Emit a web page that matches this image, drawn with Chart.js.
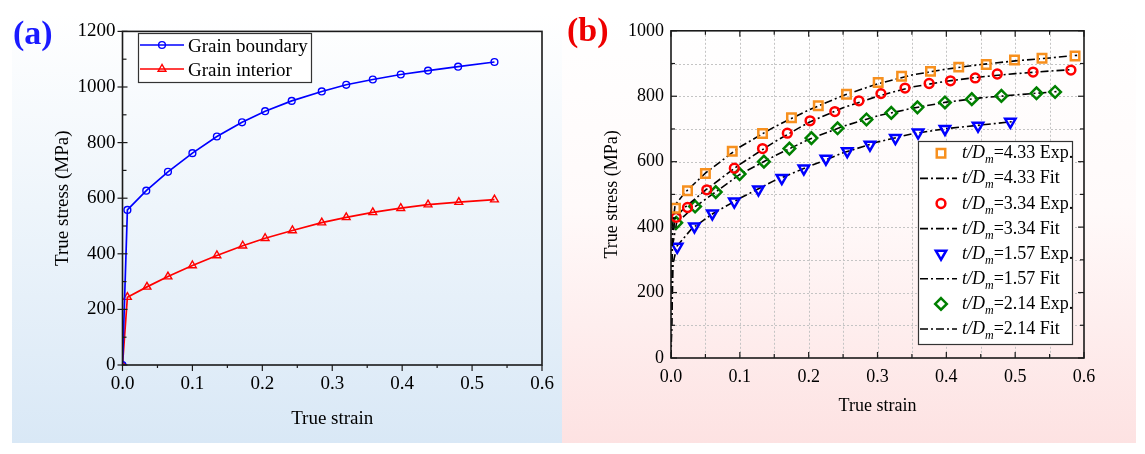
<!DOCTYPE html>
<html><head><meta charset="utf-8">
<script src="https://cdn.jsdelivr.net/npm/chart.js@4.4.1/dist/chart.umd.min.js"></script>
<style>
html,body{margin:0;padding:0;background:#fff;width:1145px;height:454px;overflow:hidden;}
#pa{position:absolute;left:12px;top:13px;width:550px;height:430px;background:linear-gradient(to bottom,#ffffff 0%,#eef5fb 45%,#d9e8f6 100%);}
#pb{position:absolute;left:562px;top:13px;width:574px;height:430px;background:linear-gradient(to bottom,#ffffff 0%,#fffafa 45%,#fde2e2 100%);}
canvas{position:absolute;left:0;top:0;}
.lab{position:absolute;font-family:"Liberation Serif","Times New Roman",serif;font-weight:bold;font-size:34px;line-height:34px;}
</style></head>
<body>
<div id="pa"><canvas id="ca" width="550" height="430" style="width:550px;height:430px"></canvas></div>
<div id="pb"><canvas id="cb" width="574" height="430" style="width:574px;height:430px"></canvas></div>
<div class="lab" style="left:13px;top:16px;color:#1a1aff">(a)</div>
<div class="lab" style="left:567px;top:13px;color:#ee0000">(b)</div>
<script>
// ---------- Panel (a) data ----------
const strainGB = [0, 0.007, 0.034, 0.065, 0.100, 0.135, 0.171, 0.204, 0.242, 0.285, 0.320, 0.358, 0.398, 0.437, 0.480, 0.532];
const stressGB = [0, 558, 627, 695, 762, 822, 873, 913, 950, 984, 1008, 1027, 1045, 1059, 1073, 1090];
const strainGI = [0, 0.007, 0.035, 0.065, 0.100, 0.135, 0.172, 0.204, 0.243, 0.285, 0.320, 0.358, 0.398, 0.437, 0.481, 0.532];
const stressGI = [0, 244, 281, 318, 358, 394, 429, 456, 484, 512, 531, 549, 564, 577, 586, 595];
const xTicksA = [0, 0.1, 0.2, 0.3, 0.4, 0.5, 0.6];
const yTicksA = [0, 200, 400, 600, 800, 1000, 1200];
const labelsA = ['Grain boundary', 'Grain interior'];

// ---------- Panel (b) data ----------
const strainE433 = [0.0065, 0.024, 0.050, 0.089, 0.133, 0.175, 0.214, 0.255, 0.301, 0.335, 0.377, 0.418, 0.458, 0.499, 0.539, 0.587];
const stressE433 = [458, 511, 564, 632, 686, 734, 771, 806, 842, 861, 876, 889, 897, 911, 916, 923];
const strainE334 = [0.0076, 0.024, 0.052, 0.092, 0.133, 0.169, 0.202, 0.238, 0.273, 0.305, 0.340, 0.375, 0.406, 0.442, 0.474, 0.526, 0.581];
const stressE334 = [430, 460, 514, 580, 640, 687, 725, 753, 786, 808, 825, 839, 847, 856, 868, 874, 880];
const strainE157 = [0.009, 0.034, 0.060, 0.092, 0.127, 0.161, 0.193, 0.225, 0.256, 0.289, 0.326, 0.359, 0.398, 0.446, 0.493];
const stressE157 = [340, 402, 442, 478, 515, 550, 579, 609, 632, 652, 672, 689, 700, 710, 722];
const strainE214 = [0.0076, 0.035, 0.065, 0.0997, 0.135, 0.172, 0.204, 0.242, 0.284, 0.320, 0.358, 0.398, 0.437, 0.480, 0.531, 0.558];
const stressE214 = [413, 463, 507, 562, 600, 640, 672, 702, 729, 749, 766, 781, 791, 801, 809, 813];

const strainF433 = [0, 0.002, 0.006, 0.02, 0.05, 0.1, 0.15, 0.2, 0.25, 0.3, 0.35, 0.4, 0.45, 0.5, 0.55, 0.59];
const stressF433 = [0, 400, 468, 505, 565, 645, 706, 758, 802, 838, 865, 883, 897, 908, 917, 925];
const strainF334 = [0, 0.002, 0.006, 0.02, 0.05, 0.1, 0.15, 0.2, 0.25, 0.3, 0.35, 0.4, 0.45, 0.5, 0.55, 0.58];
const stressF334 = [0, 370, 428, 460, 513, 592, 660, 720, 765, 800, 828, 846, 859, 869, 877, 881];
const strainF157 = [0, 0.003, 0.009, 0.03, 0.06, 0.1, 0.15, 0.2, 0.25, 0.3, 0.35, 0.4, 0.45, 0.495];
const stressF157 = [0, 290, 343, 395, 440, 488, 542, 585, 627, 660, 685, 701, 712, 722];
const strainF214 = [0, 0.002, 0.008, 0.03, 0.06, 0.1, 0.15, 0.2, 0.25, 0.3, 0.35, 0.4, 0.45, 0.5, 0.56];
const stressF214 = [0, 340, 412, 455, 500, 561, 617, 668, 708, 740, 763, 782, 795, 804, 814];
const xTicksB = [0, 0.1, 0.2, 0.3, 0.4, 0.5, 0.6];
const yTicksB = [0, 200, 400, 600, 800, 1000];
const labelsB = ['=4.33 Exp.', '=4.33 Fit', '=3.34 Exp.', '=3.34 Fit', '=1.57 Exp.', '=1.57 Fit', '=2.14 Exp.', '=2.14 Fit'];

const SERIF = '"Liberation Serif","Times New Roman",serif';
const pts = (xs, ys) => xs.map((x, i) => ({x: x, y: ys[i]}));

function marker(ctx, style, x, y, r) {
  ctx.beginPath();
  if (style === 'circle') { ctx.arc(x, y, r, 0, Math.PI * 2); }
  else if (style === 'triangle' || style === 'triangleDown') {
    const s = style === 'triangle' ? -1 : 1;
    ctx.moveTo(x, y + s * r);
    ctx.lineTo(x - r * 0.866, y - s * r * 0.5);
    ctx.lineTo(x + r * 0.866, y - s * r * 0.5);
    ctx.closePath();
  } else if (style === 'rect') { const h = r * Math.SQRT1_2; ctx.rect(x - h, y - h, 2 * h, 2 * h); }
  else if (style === 'rectRot') { ctx.moveTo(x, y - r); ctx.lineTo(x + r, y); ctx.lineTo(x, y + r); ctx.lineTo(x - r, y); ctx.closePath(); }
  ctx.stroke();
}

const framePlugin = {
  id: 'frame',
  beforeDatasetsDraw(chart, args, o) {
    if (!o.grid) return;
    const {ctx, chartArea: a, scales: {x, y}} = chart;
    ctx.save();
    ctx.strokeStyle = '#c4c4c4'; ctx.lineWidth = 1; ctx.setLineDash([2, 2]);
    const xt = o.xTicks, yt = o.yTicks;
    const xs = [], ys = [];
    for (let i = 0; i < xt.length; i++) { xs.push(xt[i]); if (i < xt.length - 1) xs.push((xt[i] + xt[i + 1]) / 2); }
    for (let i = 0; i < yt.length; i++) { ys.push(yt[i]); if (i < yt.length - 1) ys.push((yt[i] + yt[i + 1]) / 2); }
    xs.forEach(v => { const px = Math.round(x.getPixelForValue(v)) + 0.5; if (px > a.left + 2 && px < a.right - 2) { ctx.beginPath(); ctx.moveTo(px, a.top); ctx.lineTo(px, a.bottom); ctx.stroke(); } });
    ys.forEach(v => { const py = Math.round(y.getPixelForValue(v)) + 0.5; if (py > a.top + 2 && py < a.bottom - 2) { ctx.beginPath(); ctx.moveTo(a.left, py); ctx.lineTo(a.right, py); ctx.stroke(); } });
    ctx.restore();
  },
  afterDatasetsDraw(chart, args, o) {
    const {ctx, chartArea: a, scales: {x, y}} = chart;
    ctx.save();
    ctx.strokeStyle = '#1a1a1a'; ctx.lineWidth = 1.6; ctx.setLineDash([]);
    ctx.strokeRect(a.left, a.top, a.right - a.left, a.bottom - a.top);
    ctx.lineWidth = 1.2;
    const xt = o.xTicks, yt = o.yTicks;
    for (let i = 0; i < xt.length; i++) {
      const vals = [[xt[i], true]];
      if (i < xt.length - 1) vals.push([(xt[i] + xt[i + 1]) / 2, false]);
      vals.forEach(([v, maj]) => {
        const px = x.getPixelForValue(v);
        const tin = maj ? o.xIn[0] : o.xIn[1], tout = maj ? o.xOut[0] : o.xOut[1];
        ctx.beginPath(); ctx.moveTo(px, a.bottom + tout); ctx.lineTo(px, a.bottom - tin); ctx.stroke();
        if (o.mirror) { ctx.beginPath(); ctx.moveTo(px, a.top); ctx.lineTo(px, a.top + tin); ctx.stroke(); }
      });
    }
    for (let i = 0; i < yt.length; i++) {
      const vals = [[yt[i], true]];
      if (i < yt.length - 1) vals.push([(yt[i] + yt[i + 1]) / 2, false]);
      vals.forEach(([v, maj]) => {
        const py = y.getPixelForValue(v);
        const tin = maj ? o.yIn[0] : o.yIn[1], tout = maj ? o.yOut[0] : o.yOut[1];
        ctx.beginPath(); ctx.moveTo(a.left - tout, py); ctx.lineTo(a.left + tin, py); ctx.stroke();
        if (o.mirror) { ctx.beginPath(); ctx.moveTo(a.right, py); ctx.lineTo(a.right - tin, py); ctx.stroke(); }
      });
    }
    // legend
    const L = o.legend;
    if (L) {
      const ds = chart.data.datasets;
      ctx.fillStyle = '#ffffff';
      ctx.fillRect(L.x, L.y, L.w, L.h);
      ctx.strokeStyle = '#333'; ctx.lineWidth = 1.2;
      ctx.strokeRect(L.x + 0.5, L.y + 0.5, L.w, L.h);
      L.items.forEach((it, i) => {
        const d = ds[it.ds];
        const cy = L.rowY + i * L.rowH;
        if (it.line) {
          ctx.save();
          ctx.strokeStyle = d.borderColor; ctx.lineWidth = d.borderWidth; ctx.setLineDash(d.borderDash || []);
          ctx.beginPath(); ctx.moveTo(L.lineX0, cy); ctx.lineTo(L.lineX1, cy); ctx.stroke();
          ctx.restore();
        }
        if (it.marker) {
          ctx.save(); ctx.setLineDash([]);
          ctx.strokeStyle = d.pointBorderColor; ctx.lineWidth = d.pointBorderWidth;
          marker(ctx, d.mk, L.markX, cy, d.pointRadius);
          ctx.restore();
        }
        ctx.fillStyle = '#000'; ctx.textBaseline = 'alphabetic'; ctx.textAlign = 'left';
        let tx = L.textX; const by = cy + L.base;
        if (L.rich) {
          ctx.font = 'italic ' + L.fs + 'px ' + SERIF;
          ctx.fillText('t/D', tx, by); tx += ctx.measureText('t/D').width;
          ctx.font = 'italic ' + Math.round(L.fs * 0.68) + 'px ' + SERIF;
          ctx.fillText('m', tx, by + 5); tx += ctx.measureText('m').width;
        }
        ctx.font = L.fs + 'px ' + SERIF;
        ctx.fillText(it.text, tx, by);
      });
    }
    ctx.restore();
  }
};

function axisX(ticksArr, title, fs, pad, titlePadBottom, height) {
  return {
    type: 'linear', min: ticksArr[0], max: ticksArr[ticksArr.length - 1],
    afterBuildTicks: s => { s.ticks = ticksArr.map(v => ({value: v})); },
    afterFit: s => { s.height = height; },
    grid: {display: false, drawTicks: false}, border: {display: false},
    ticks: {padding: pad, color: '#000', font: {family: SERIF, size: fs}, callback: v => Number(v).toFixed(1), maxRotation: 0, autoSkip: false},
    title: {display: true, text: title, color: '#000', font: {family: SERIF, size: fs}, padding: {top: 0, bottom: titlePadBottom}}
  };
}
function axisY(ticksArr, title, fs, pad, titlePadTop, width) {
  return {
    type: 'linear', min: ticksArr[0], max: ticksArr[ticksArr.length - 1],
    afterBuildTicks: s => { s.ticks = ticksArr.map(v => ({value: v})); },
    afterFit: s => { s.width = width; },
    grid: {display: false, drawTicks: false}, border: {display: false},
    ticks: {padding: pad, color: '#000', font: {family: SERIF, size: fs}, callback: v => String(v), autoSkip: false},
    title: {display: true, text: title, color: '#000', font: {family: SERIF, size: fs}, padding: {top: titlePadTop, bottom: 0}}
  };
}

const lineDs = (label, xs, ys, color, mk, r) => ({
  type: 'line', label: label, data: pts(xs, ys), borderColor: color, backgroundColor: 'rgba(0,0,0,0)',
  borderWidth: 1.7, tension: 0, showLine: true, mk: mk, pointStyle: mk, rotation: 0,
  pointRadius: r, pointBorderWidth: 1.4, pointBorderColor: color, pointBackgroundColor: 'rgba(0,0,0,0)'
});

new Chart(document.getElementById('ca'), {
  type: 'scatter',
  data: {datasets: [
    lineDs(labelsA[0], strainGB, stressGB, '#0000ff', 'circle', 3.4),
    lineDs(labelsA[1], strainGI, stressGI, '#ff0000', 'triangle', 4.5)
  ]},
  options: {
    responsive: false, animation: false, events: [], devicePixelRatio: 1,
    layout: {padding: {left: 0, right: 20, top: 13, bottom: 0}},
    plugins: {
      legend: {display: false}, tooltip: {enabled: false},
      frame: {
        grid: false, mirror: false, xTicks: xTicksA, yTicks: yTicksA,
        xIn: [0, 0], xOut: [6, 3], yIn: [5, 4], yOut: [5, 0],
        legend: {x: 126, y: 20, w: 173, h: 49, rowY: 32, rowH: 24, base: 6.5, lineX0: 128, lineX1: 172, markX: 150, textX: 176, fs: 19, rich: false,
          items: [{ds: 0, line: true, marker: true, text: labelsA[0]}, {ds: 1, line: true, marker: true, text: labelsA[1]}]}
      }
    },
    scales: {
      x: axisX(xTicksA, 'True strain', 19, 8, 13, 78),
      y: axisY(yTicksA, 'True stress (MPa)', 19, 7, 40, 110.5)
    }
  },
  plugins: [framePlugin]
});

const expDs = (label, xs, ys, color, mk, r) => ({
  type: 'scatter', label: label, data: pts(xs, ys), showLine: false, mk: mk,
  pointStyle: mk === 'triangleDown' ? 'triangle' : mk, rotation: mk === 'triangleDown' ? 180 : 0,
  pointRadius: r, pointBorderWidth: 2.5, pointBorderColor: color, pointBackgroundColor: 'rgba(0,0,0,0)',
  borderColor: color, backgroundColor: 'rgba(0,0,0,0)'
});
const fitDs = (label, xs, ys) => ({
  type: 'line', label: label, data: pts(xs, ys), showLine: true, borderColor: '#000000', borderWidth: 1.6,
  borderDash: [8, 3, 2, 3], pointRadius: 0, tension: 0, backgroundColor: 'rgba(0,0,0,0)'
});

new Chart(document.getElementById('cb'), {
  type: 'scatter',
  data: {datasets: [
    expDs(labelsB[0], strainE433, stressE433, '#f7901e', 'rect', 6),
    fitDs(labelsB[1], strainF433, stressF433),
    expDs(labelsB[2], strainE334, stressE334, '#ff0000', 'circle', 4.4),
    fitDs(labelsB[3], strainF334, stressF334),
    expDs(labelsB[4], strainE157, stressE157, '#0000ff', 'triangleDown', 6),
    fitDs(labelsB[5], strainF157, stressF157),
    expDs(labelsB[6], strainE214, stressE214, '#008000', 'rectRot', 5.8),
    fitDs(labelsB[7], strainF214, stressF214)
  ]},
  options: {
    responsive: false, animation: false, events: [], devicePixelRatio: 1,
    layout: {padding: {left: 0, right: 52, top: 13, bottom: 0}},
    plugins: {
      legend: {display: false}, tooltip: {enabled: false},
      frame: {
        grid: true, mirror: true, xTicks: xTicksB, yTicks: yTicksB,
        xIn: [6, 4], xOut: [0, 0], yIn: [6, 4], yOut: [0, 0],
        legend: {x: 356, y: 128, w: 154, h: 203, rowY: 140.3, rowH: 25.1, base: 5, lineX0: 358, lineX1: 395, markX: 379, textX: 400, fs: 18, rich: true,
          items: labelsB.map((t, i) => ({ds: i, line: i % 2 === 1, marker: i % 2 === 0, text: t}))}
      }
    },
    scales: {
      x: axisX(xTicksB, 'True strain', 18, 8, 26, 85),
      y: axisY(yTicksB, 'True stress (MPa)', 18, 7, 39, 109)
    }
  },
  plugins: [framePlugin]
});
</script>
</body></html>
